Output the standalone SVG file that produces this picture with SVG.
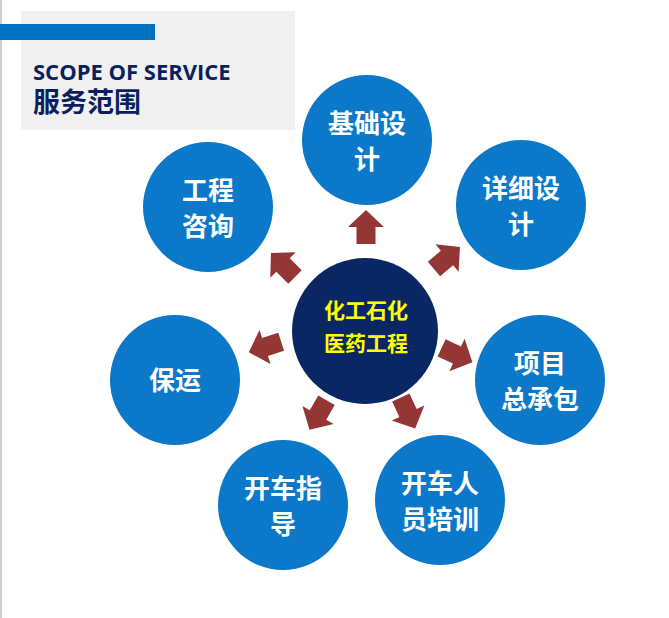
<svg xmlns="http://www.w3.org/2000/svg" width="669" height="618" viewBox="0 0 669 618">
<style>
.sat{fill:#0b78c9}
.st{fill:#fff;font:bold 26px "Noto Sans CJK SC",sans-serif;text-anchor:middle}
.ar{fill:#943634}
</style>
<defs><path id="arr" d="M0,-17 L18,0 L9.5,0 L9.5,17 L-9.5,17 L-9.5,0 L-18,0 Z"/></defs>
<rect width="669" height="618" fill="#fff"/>
<rect x="0" y="0" width="2" height="618" fill="#d0d0d0"/>
<g id="header">
<rect x="21" y="11" width="274" height="119" fill="#f0f0f0"/>
<rect x="0" y="24" width="155" height="16" fill="#0070c0"/>
<text x="33" y="80" font-family="Open Sans,sans-serif" font-weight="bold" font-size="22" fill="#0a1f5c">SCOPE OF SERVICE</text>
<text x="33" y="112" font-family="Noto Sans CJK SC,sans-serif" font-weight="bold" font-size="27" fill="#0a1f5c">服务范围</text>
</g>
<g id="connectors" class="ar">
<use href="#arr" transform="translate(366,227)"/>
<use href="#arr" transform="translate(447,258) rotate(50)"/>
<use href="#arr" transform="translate(283,265) rotate(-45)"/>
<use href="#arr" transform="translate(265,347) rotate(-108)"/>
<use href="#arr" transform="translate(457,355) rotate(115)"/>
<use href="#arr" transform="translate(318,415) rotate(-150)"/>
<use href="#arr" transform="translate(408,413) rotate(155)"/>
</g>
<g id="center"><circle cx="365" cy="331" r="73" fill="#0a2763"/>
<text x="366" y="318" text-anchor="middle" font-family="Noto Sans CJK SC,sans-serif" font-weight="bold" font-size="21" fill="#ffff00">化工石化</text>
<text x="366" y="351" text-anchor="middle" font-family="Noto Sans CJK SC,sans-serif" font-weight="bold" font-size="21" fill="#ffff00">医药工程</text></g>
<g id="n1"><circle class="sat" cx="367" cy="140" r="65"/><text class="st" x="367" y="133">基础设</text><text class="st" x="367" y="169">计</text></g>
<g id="n2"><circle class="sat" cx="521" cy="205" r="65"/><text class="st" x="521" y="198">详细设</text><text class="st" x="521" y="234">计</text></g>
<g id="n3"><circle class="sat" cx="208" cy="207" r="65"/><text class="st" x="208" y="200">工程</text><text class="st" x="208" y="236">咨询</text></g>
<g id="n4"><circle class="sat" cx="175" cy="380" r="65"/><text class="st" x="175" y="390">保运</text></g>
<g id="n5"><circle class="sat" cx="540" cy="380" r="65"/><text class="st" x="540" y="373">项目</text><text class="st" x="540" y="409">总承包</text></g>
<g id="n6"><circle class="sat" cx="283" cy="505" r="65"/><text class="st" x="283" y="498">开车指</text><text class="st" x="283" y="534">导</text></g>
<g id="n7"><circle class="sat" cx="440" cy="500" r="65"/><text class="st" x="440" y="493">开车人</text><text class="st" x="440" y="529">员培训</text></g>
</svg>
